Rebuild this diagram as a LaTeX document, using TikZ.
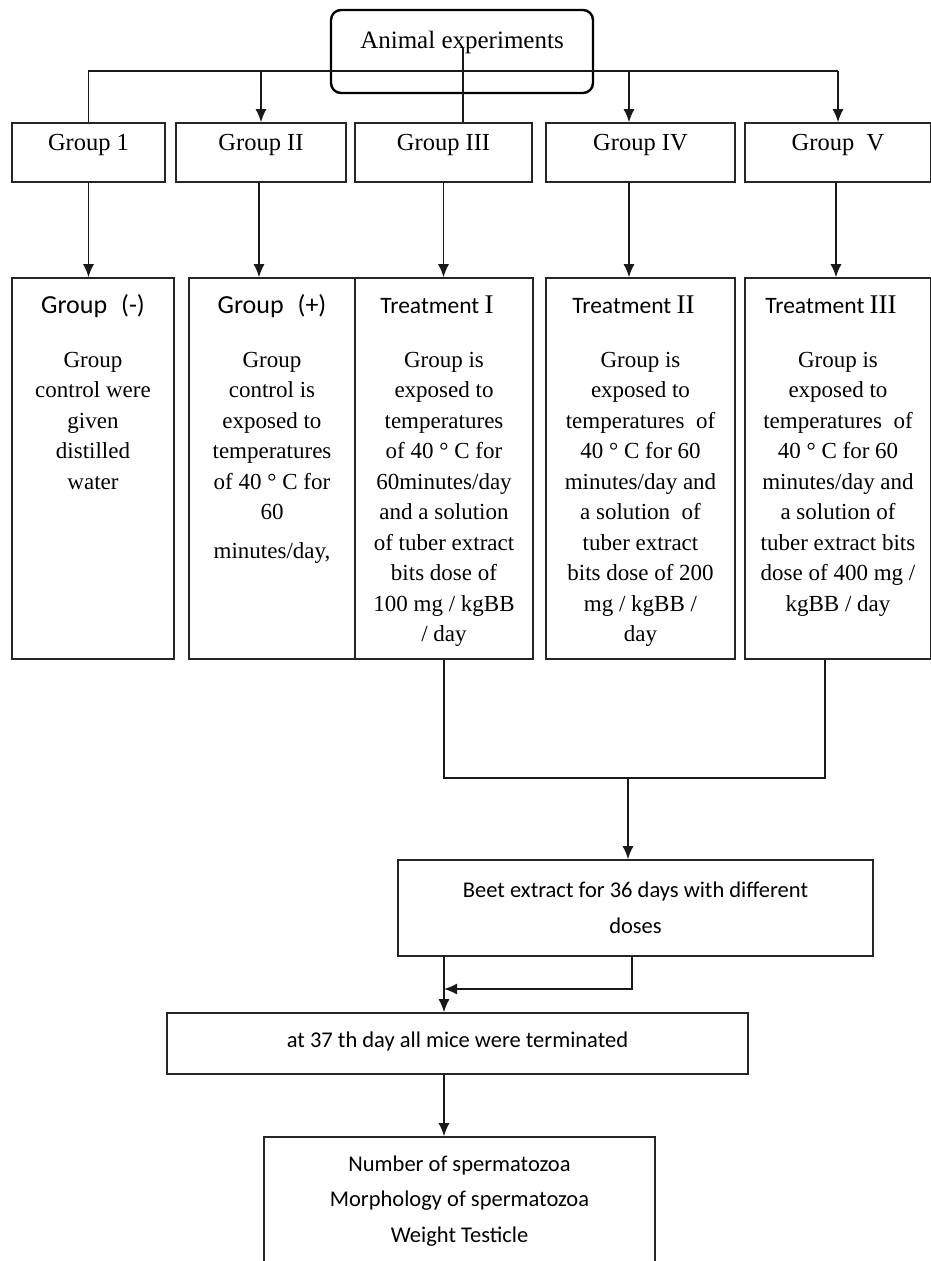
\documentclass[tikz,border=0pt]{standalone}
\usepackage{fontspec}
\setmainfont{Liberation Serif}
\newfontfamily\calibri{Carlito}
\usetikzlibrary{arrows.meta}

\tikzstyle{topbox} = [rectangle, rounded corners=10pt, draw=black, line width=2.4pt, inner sep=0pt, minimum width=262pt, minimum height=83pt, text height=38pt, text depth=45pt, font=\fontsize{25}{30}\selectfont]
\tikzstyle{groupbox} = [rectangle, draw=black!85, line width=1.6pt, inner sep=0pt, minimum height=59pt, text height=27pt, text depth=32pt, font=\fontsize{24.5}{28}\selectfont]
\tikzstyle{tallbox} = [rectangle, draw=black!85, line width=1.6pt, inner sep=0pt, minimum height=381pt]
\tikzstyle{headtext} = [anchor=base, inner sep=0pt, font=\calibri\fontsize{26}{30}\selectfont]
\tikzstyle{treathead} = [anchor=base, inner sep=0pt, xshift=-7pt, font=\calibri\fontsize{23.5}{30}\selectfont]
\tikzstyle{bodytext} = [anchor=north, inner sep=0pt, align=center, font=\fontsize{23}{30.5}\selectfont]
\tikzstyle{stepbox} = [rectangle, draw=black!85, line width=1.6pt, inner sep=0pt, align=center, font=\calibri\fontsize{22.5}{35.5}\selectfont]
\tikzstyle{link} = [line width=1.5pt, draw=black!90]
\tikzstyle{flow} = [link, -{Latex[length=13pt, width=11pt]}]

\newcommand{\grpnum}[1]{{\rmfamily\fontsize{27}{30}\selectfont #1}}

\begin{document}
\begin{tikzpicture}[x=1pt, y=-1pt]
\useasboundingbox (0,0) rectangle (930,1261);

% top
\node (anim) [topbox] at (462,51.5) {Animal experiments};
\coordinate (stem) at (463,48);
\coordinate (bus) at (462,71);

% first row
\node (g1) [groupbox, minimum width=153pt] at (88.5,152.5) {Group 1};
\node (g2) [groupbox, minimum width=170pt] at (261,152.5) {Group II};
\node (g3) [groupbox, minimum width=177pt] at (443.5,152.5) {Group III};
\node (g4) [groupbox, minimum width=189pt] at (640.5,152.5) {Group IV};
\node (g5) [groupbox, minimum width=186pt] at (838,152.5) {Group\ \ V};

\draw [link] (g1.north) |- (bus -| g5.north);
\draw [flow] (bus -| g5.north) -- (g5.north);
\draw [flow] (bus -| g2.north) -- (g2.north);
\draw [flow] ([xshift=-11.5pt]g4.north |- bus) -- ([xshift=-11.5pt]g4.north);
\draw [link] (stem) -- (stem |- g3.north);

% second row
\node (t1) [tallbox, minimum width=162pt] at (93,468.5) {};
\node (t2) [tallbox, minimum width=166pt] at (272,468.5) {};
\node (t3) [tallbox, minimum width=178pt] at (444,468.5) {};
\node (t4) [tallbox, minimum width=189pt] at (640.5,468.5) {};
\node (t5) [tallbox, minimum width=186pt] at (838,468.5) {};

\node [headtext] at ([yshift=-36pt]t1.north) {Group\hspace{14pt}(-)};
\node [headtext] at ([yshift=-36pt]t2.north) {Group\hspace{14pt}(+)};
\node [treathead] at ([yshift=-36pt]t3.north) {Treatment \grpnum{I}};
\node [treathead] at ([yshift=-36pt]t4.north) {Treatment \grpnum{II}};
\node [treathead] at ([yshift=-36pt]t5.north) {Treatment \grpnum{III}};

\node [bodytext] at ([yshift=-74.5pt]t1.north) {Group\\control were\\given\\distilled\\water};
\node [bodytext] at ([yshift=-74.5pt]t2.north) {Group\\control is\\exposed to\\temperatures\\of 40 ° C for\\60\\[8pt]minutes/day,};
\node [bodytext] at ([yshift=-74.5pt]t3.north) {Group is\\exposed to\\temperatures\\of 40 ° C for\\60minutes/day\\and a solution\\of tuber extract\\bits dose of\\100 mg / kgBB\\/ day};
\node [bodytext] at ([yshift=-74.5pt]t4.north) {Group is\\exposed to\\temperatures\ \ of\\40 ° C for 60\\minutes/day and\\a solution\ \ of\\tuber extract\\bits dose of 200\\mg / kgBB /\\day};
\node [bodytext] at ([yshift=-74.5pt]t5.north) {Group is\\exposed to\\temperatures\ \ of\\40 ° C for 60\\minutes/day and\\a solution of\\tuber extract bits\\dose of 400 mg /\\kgBB / day};

\draw [flow] (g1.south) -- (g1.south |- t1.north);
\draw [flow] ([xshift=-2pt]g2.south) -- ([xshift=-2pt]g2.south |- t2.north);
\draw [flow] (g3.south) -- (g3.south |- t3.north);
\draw [flow] ([xshift=-11.5pt]g4.south) -- ([xshift=-11.5pt]g4.south |- t4.north);
\draw [flow] ([xshift=-2pt]g5.south) -- ([xshift=-2pt]g5.south |- t5.north);

% bottom steps
\node (beet) [stepbox, minimum width=475pt, minimum height=96pt] at (635.5,908) {Beet extract for 36 days with different\\doses};
\node (at37) [stepbox, minimum width=581pt, minimum height=61pt, text height=34pt, text depth=27pt] at (457.5,1043.5) {at 37 th day all mice were terminated};
\node (result) [stepbox, minimum width=391pt, minimum height=128pt] at (459.5,1201) {Number of spermatozoa\\Morphology of spermatozoa\\Weight Testicle};

\coordinate (join) at (628,778);
\coordinate (merge) at (444,989);
\draw [link] (t3.south) |- (join) -| ([xshift=-13pt]t5.south);
\draw [flow] (join) -- (join |- beet.north);
\draw [flow] (merge |- beet.south) -- (merge |- at37.north);
\draw [flow] ([xshift=-3.5pt]beet.south) |- (merge);
\draw [flow] (merge |- at37.south) -- (merge |- result.north);

\end{tikzpicture}
\end{document}
